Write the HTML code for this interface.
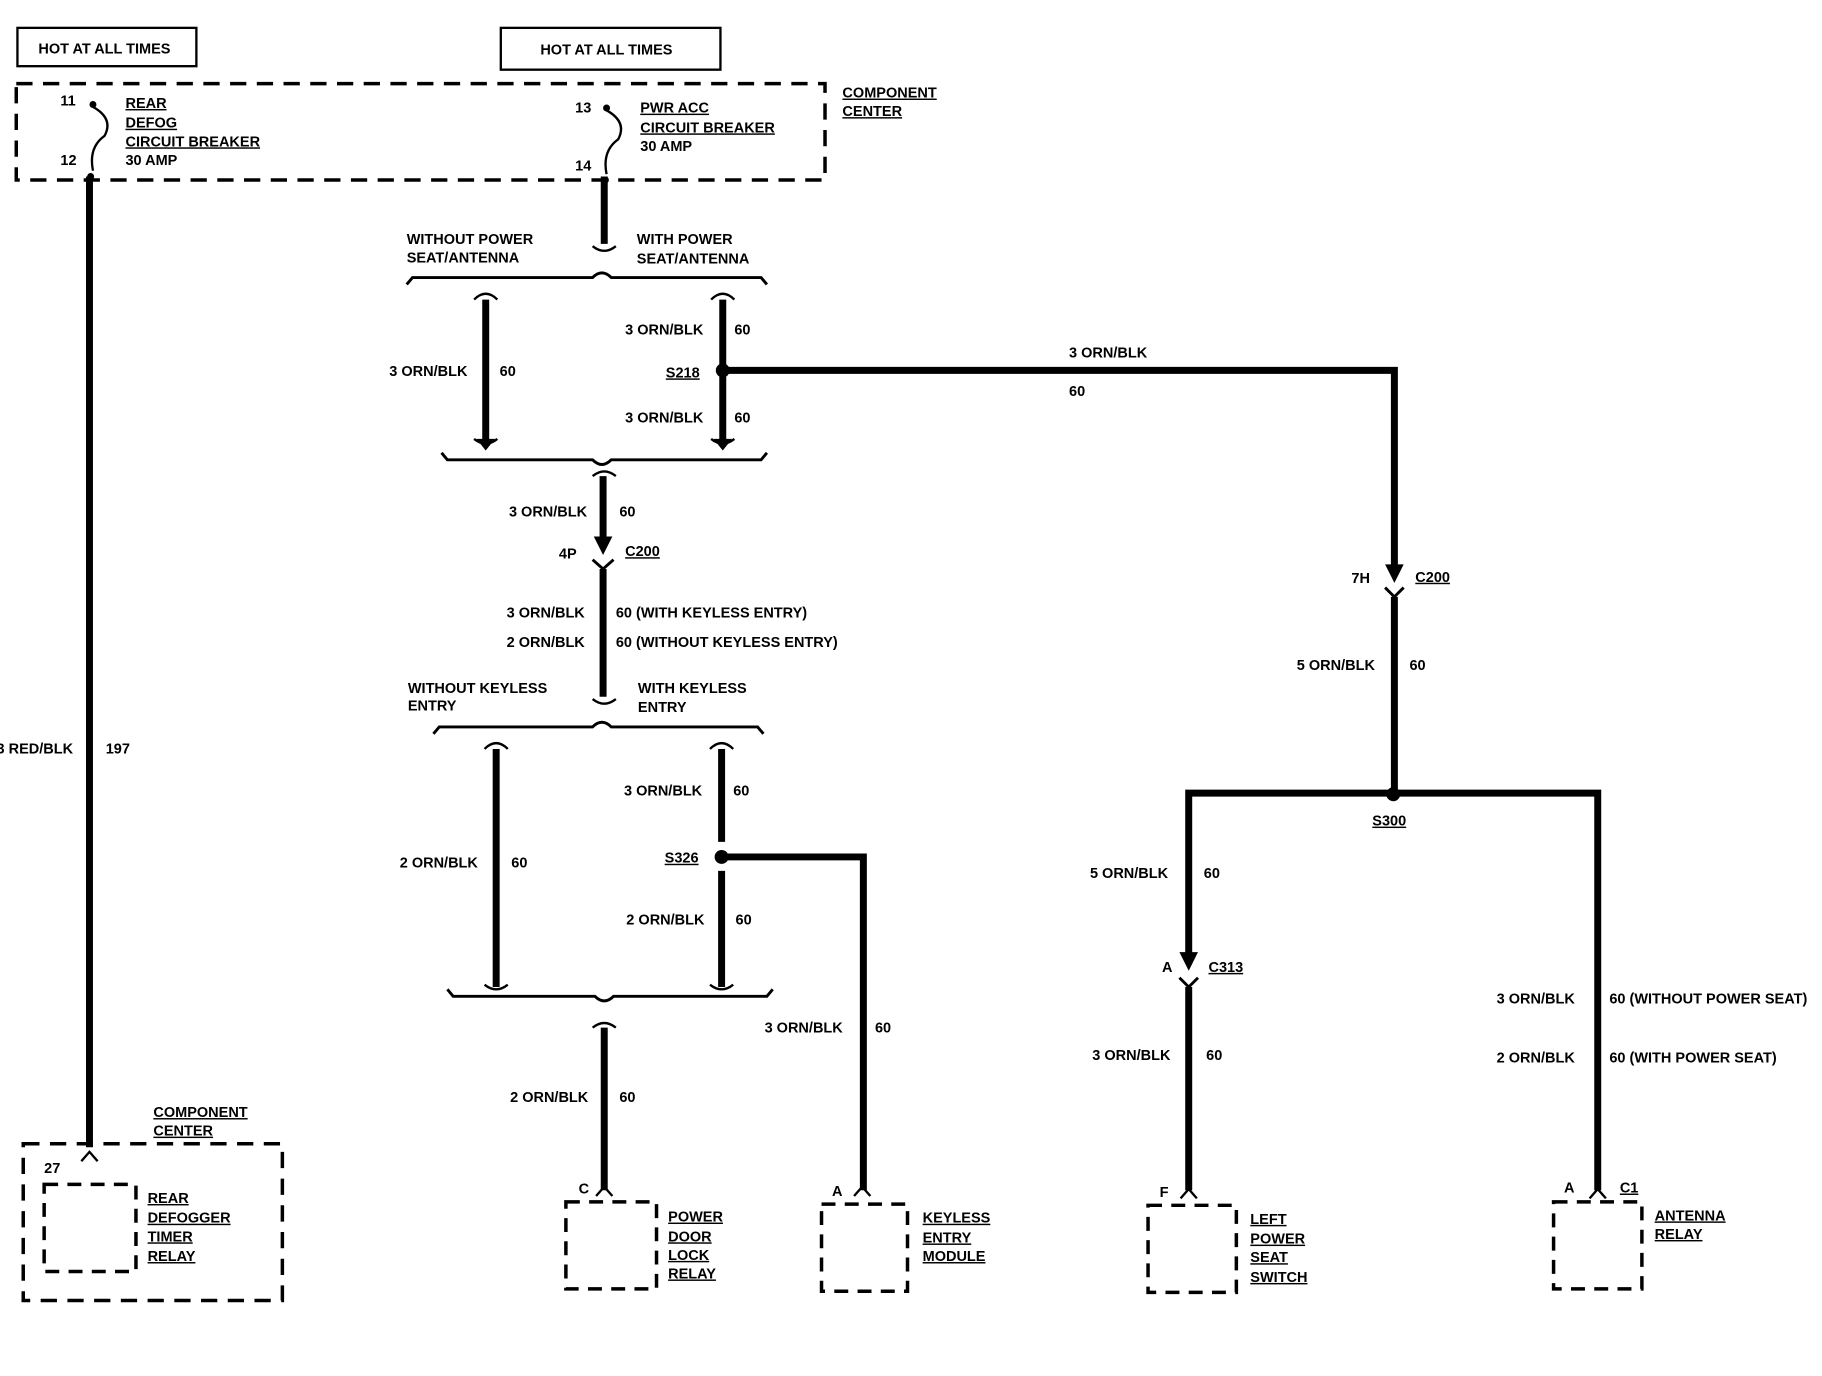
<!DOCTYPE html>
<html><head><meta charset="utf-8"><style>
html,body{margin:0;padding:0;background:#fff}
svg{display:block}
text{font-family:"Liberation Sans",sans-serif;font-weight:bold;font-size:12.5px;fill:#000}
.u{text-decoration:underline}
</style></head><body>
<svg width="1822" height="1376" viewBox="0 0 1568 1185" preserveAspectRatio="none" xmlns="http://www.w3.org/2000/svg">
<g fill="none" stroke="#000">
<!-- top boxes -->
<rect x="15" y="24" width="154" height="33" stroke-width="2"/>
<rect x="431" y="24" width="189" height="36" stroke-width="2"/>
<!-- component center dashed -->
<rect x="14" y="72" width="696" height="83" stroke-width="3" stroke-dasharray="14,9"/>
<!-- breakers -->
<path d="M80 92 q18 10 10 25 q-14 10 -10 30" stroke-width="2"/>
<path d="M522 95 q18 10 10 25 q-14 10 -10 30" stroke-width="2"/>
<!-- left long wire -->
<path d="M77 152 V988" stroke-width="6"/>
<path d="M70 1000 l7 -8 l7 8" stroke-width="2"/>
<!-- center feed -->
<path d="M520 152 V210" stroke-width="6"/>
<path d="M510 212 q10 8 20 0" stroke-width="2"/>
<path d="M350 245 l5 -6 H510 q8 -8 16 0 H655 l5 6" stroke-width="2.5"/>
<!-- branch 1 -->
<path d="M418 258 V380" stroke-width="6"/>
<path d="M408 258 q10 -10 20 0" stroke-width="2"/>
<path d="M408 378 q10 8 20 0" stroke-width="2"/>
<path d="M622 258 V380" stroke-width="6"/>
<path d="M612 258 q10 -10 20 0" stroke-width="2"/>
<path d="M612 378 q10 8 20 0" stroke-width="2"/>
<path d="M380 390 l5 6 H510 q8 8 16 0 H655 l5 -6" stroke-width="2.5"/>
<path d="M510 410 q10 -8 20 0" stroke-width="2"/>
<path d="M519 410 V470" stroke-width="6"/>
<path d="M510 482 l9 8 l9 -8" stroke-width="2.5"/>
<path d="M519 490 V600" stroke-width="6"/>
<path d="M510 602 q10 8 20 0" stroke-width="2"/>
<path d="M373 632 l5 -6 H510 q8 -8 16 0 H652 l5 6" stroke-width="2.5"/>
<!-- branch 2 -->
<path d="M427 645 V850" stroke-width="6"/>
<path d="M417 645 q10 -10 20 0" stroke-width="2"/>
<path d="M417 848 q10 8 20 0" stroke-width="2"/>
<path d="M621 645 V725 M621 750 V850" stroke-width="6"/>
<path d="M611 645 q10 -10 20 0" stroke-width="2"/>
<path d="M611 848 q10 8 20 0" stroke-width="2"/>
<path d="M621 738 H743 V1025" stroke-width="6"/>
<path d="M385 852 l5 6 H512 q8 8 16 0 H660 l5 -6" stroke-width="2.5"/>
<path d="M510 885 q10 -8 20 0" stroke-width="2"/>
<path d="M520 885 V1025" stroke-width="6"/>
<!-- right -->
<path d="M622 319 H1200 V492" stroke-width="6"/>
<path d="M1192 506 l8 8 l8 -8" stroke-width="2.5"/>
<path d="M1200 514 V683" stroke-width="6"/>
<path d="M1023 830 V683 H1375 V1025" stroke-width="6"/>
<path d="M1015 842 l8 8 l8 -8" stroke-width="2.5"/>
<path d="M1023 850 V1025" stroke-width="6"/>
<!-- end chevrons -->
<path d="M513 1030 l7 -8 l7 8 M735 1030 l7 -8 l7 8 M1016 1032 l7 -8 l7 8 M1368 1032 l7 -8 l7 8" stroke-width="2"/>
<!-- components -->
<rect x="20" y="985" width="223" height="135" stroke-width="3" stroke-dasharray="14,9"/>
<rect x="38" y="1020" width="79" height="75" stroke-width="3" stroke-dasharray="12,8"/>
<rect x="487" y="1035" width="78" height="75" stroke-width="3" stroke-dasharray="12,8"/>
<rect x="707" y="1037" width="74" height="75" stroke-width="3" stroke-dasharray="12,8"/>
<rect x="988" y="1038" width="76" height="75" stroke-width="3" stroke-dasharray="12,8"/>
<rect x="1337" y="1035" width="76" height="75" stroke-width="3" stroke-dasharray="12,8"/>
</g>
<g fill="#000">
<polygon points="511,462 527,462 519,478"/>
<polygon points="1192,486 1208,486 1200,502"/>
<polygon points="1015,820 1031,820 1023,836"/>
<polygon points="410,378 426,378 418,388"/>
<polygon points="614,378 630,378 622,388"/>
<circle cx="622" cy="319" r="6"/><circle cx="621" cy="738" r="6"/><circle cx="1199" cy="684" r="6"/>
<circle cx="80" cy="90" r="3"/><circle cx="78" cy="152" r="3"/><circle cx="522" cy="93" r="3"/><circle cx="521" cy="155" r="3"/>
</g>
<text x="33" y="46">HOT AT ALL TIMES</text>
<text x="465" y="47">HOT AT ALL TIMES</text>
<text x="725" y="84" class="u">COMPONENT</text><text x="725" y="100" class="u">CENTER</text>
<text x="52" y="91">11</text><text x="52" y="142">12</text>
<text x="108" y="93" class="u">REAR</text><text x="108" y="110" class="u">DEFOG</text><text x="108" y="126" class="u">CIRCUIT BREAKER</text><text x="108" y="142">30 AMP</text>
<text x="495" y="97">13</text><text x="495" y="147">14</text>
<text x="551" y="97" class="u">PWR ACC</text><text x="551" y="114" class="u">CIRCUIT BREAKER</text><text x="551" y="130">30 AMP</text>
<text x="350" y="210">WITHOUT POWER</text><text x="350" y="226">SEAT/ANTENNA</text>
<text x="548" y="210">WITH POWER</text><text x="548" y="227">SEAT/ANTENNA</text>
<text x="538" y="288">3 ORN/BLK</text><text x="632" y="288">60</text>
<text x="335" y="324">3 ORN/BLK</text><text x="430" y="324">60</text>
<text x="573" y="325" class="u">S218</text>
<text x="538" y="364">3 ORN/BLK</text><text x="632" y="364">60</text>
<text x="920" y="308">3 ORN/BLK</text><text x="920" y="341">60</text>
<text x="438" y="445">3 ORN/BLK</text><text x="533" y="445">60</text>
<text x="481" y="481">4P</text><text x="538" y="479" class="u">C200</text>
<text x="436" y="532">3 ORN/BLK</text><text x="530" y="532">60 (WITH KEYLESS ENTRY)</text>
<text x="436" y="557">2 ORN/BLK</text><text x="530" y="557">60  (WITHOUT KEYLESS ENTRY)</text>
<text x="351" y="597">WITHOUT KEYLESS</text><text x="351" y="612">ENTRY</text>
<text x="549" y="597">WITH KEYLESS</text><text x="549" y="613">ENTRY</text>
<text x="537" y="685">3 ORN/BLK</text><text x="631" y="685">60</text>
<text x="344" y="747">2 ORN/BLK</text><text x="440" y="747">60</text>
<text x="572" y="743" class="u">S326</text>
<text x="539" y="796">2 ORN/BLK</text><text x="633" y="796">60</text>
<text x="658" y="889">3 ORN/BLK</text><text x="753" y="889">60</text>
<text x="439" y="949">2 ORN/BLK</text><text x="533" y="949">60</text>
<text x="1163" y="502">7H</text><text x="1218" y="501" class="u">C200</text>
<text x="1116" y="577">5 ORN/BLK</text><text x="1213" y="577">60</text>
<text x="1181" y="711" class="u">S300</text>
<text x="938" y="756">5 ORN/BLK</text><text x="1036" y="756">60</text>
<text x="1000" y="837">A</text><text x="1040" y="837" class="u">C313</text>
<text x="940" y="913">3 ORN/BLK</text><text x="1038" y="913">60</text>
<text x="1288" y="864">3 ORN/BLK</text><text x="1385" y="864">60 (WITHOUT POWER SEAT)</text>
<text x="1288" y="915">2 ORN/BLK</text><text x="1385" y="915">60 (WITH POWER SEAT)</text>
<text x="-3" y="649">3 RED/BLK</text><text x="91" y="649">197</text>
<text x="132" y="962" class="u">COMPONENT</text><text x="132" y="978" class="u">CENTER</text>
<text x="38" y="1010">27</text>
<text x="127" y="1036" class="u">REAR</text><text x="127" y="1053" class="u">DEFOGGER</text><text x="127" y="1069" class="u">TIMER</text><text x="127" y="1086" class="u">RELAY</text>
<text x="498" y="1028">C</text>
<text x="575" y="1052" class="u">POWER</text><text x="575" y="1069" class="u">DOOR</text><text x="575" y="1085" class="u">LOCK</text><text x="575" y="1101" class="u">RELAY</text>
<text x="716" y="1030">A</text>
<text x="794" y="1053" class="u">KEYLESS</text><text x="794" y="1070" class="u">ENTRY</text><text x="794" y="1086" class="u">MODULE</text>
<text x="998" y="1031">F</text>
<text x="1076" y="1054" class="u">LEFT</text><text x="1076" y="1071" class="u">POWER</text><text x="1076" y="1087" class="u">SEAT</text><text x="1076" y="1104" class="u">SWITCH</text>
<text x="1346" y="1027">A</text><text x="1394" y="1027" class="u">C1</text>
<text x="1424" y="1051" class="u">ANTENNA</text><text x="1424" y="1067" class="u">RELAY</text>
</svg>
</body></html>
